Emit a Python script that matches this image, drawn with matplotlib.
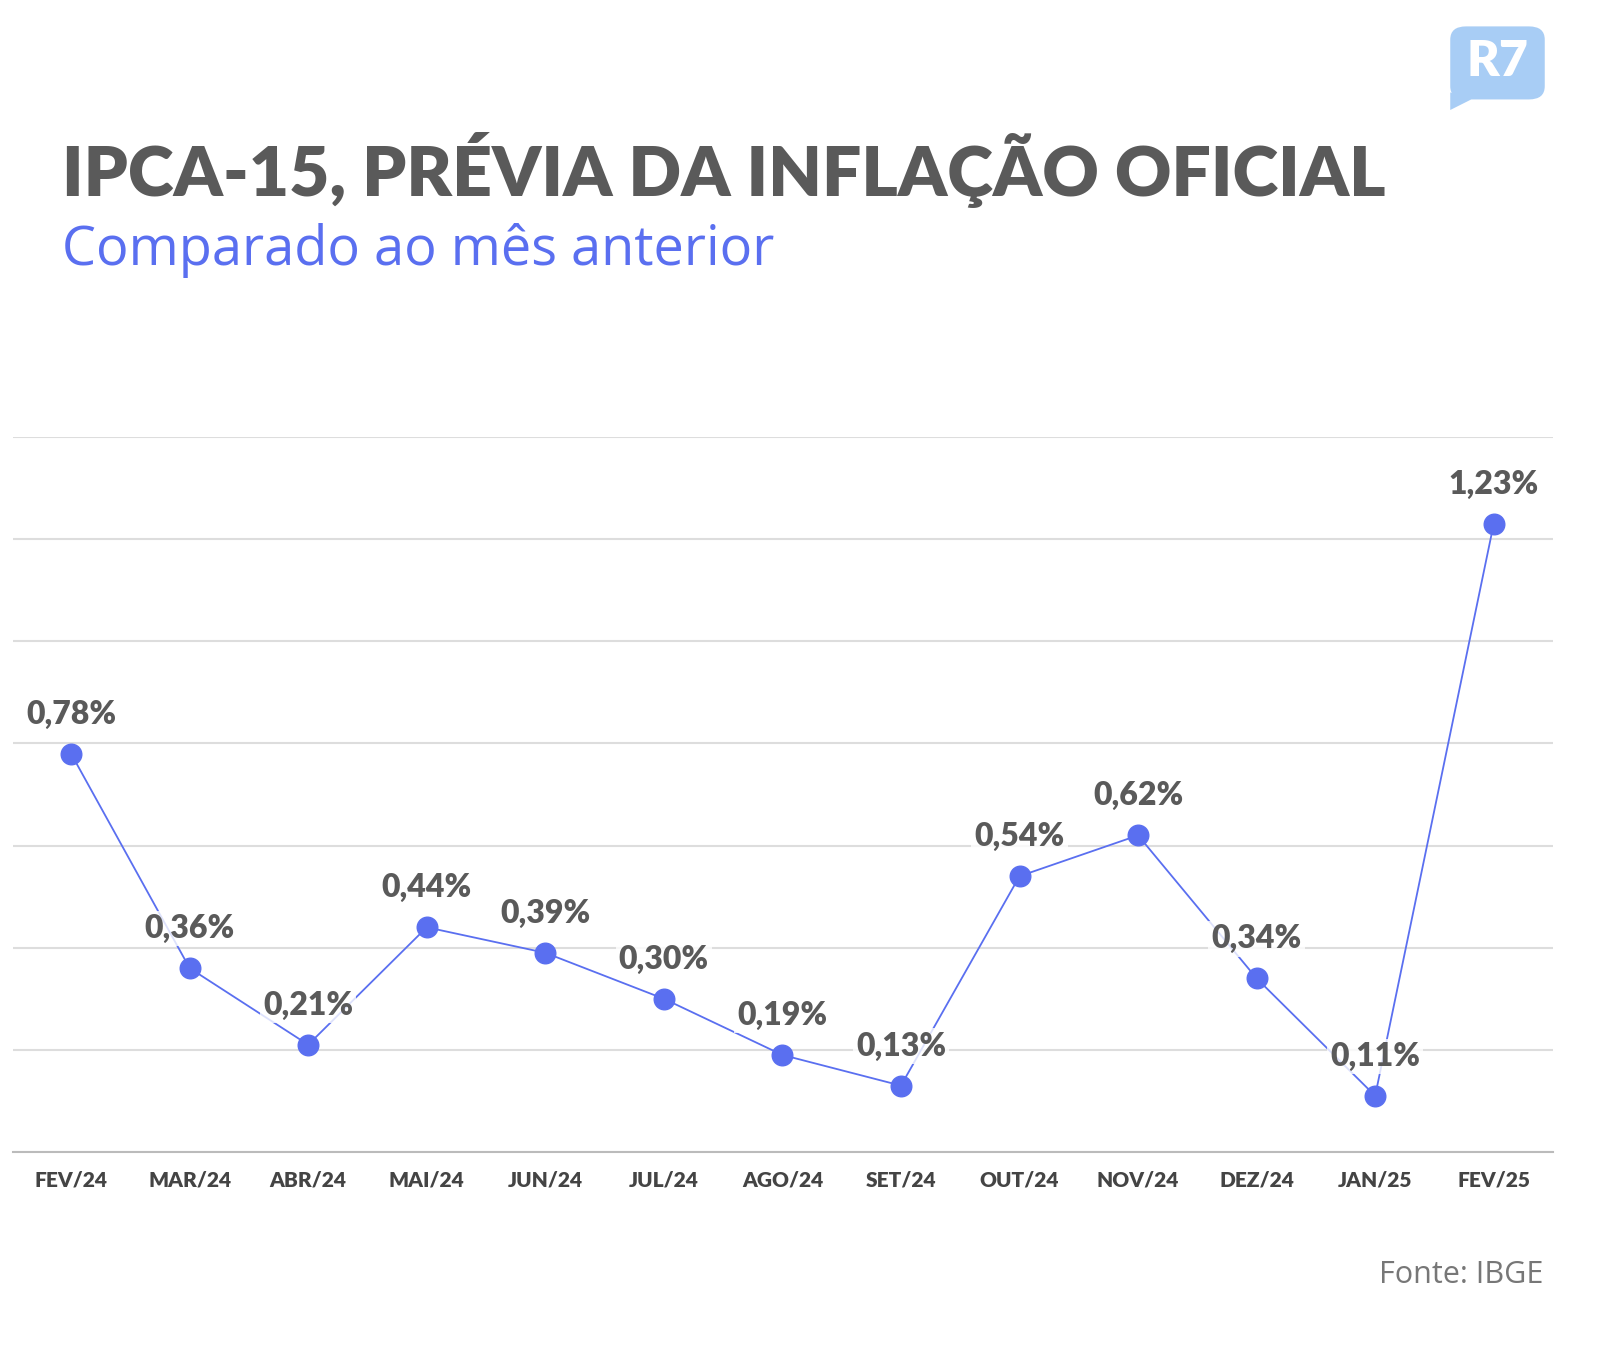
import matplotlib
matplotlib.use("Agg")
import matplotlib.pyplot as plt
from matplotlib.patches import FancyBboxPatch

months = ["FEV/24","MAR/24","ABR/24","MAI/24","JUN/24","JUL/24","AGO/24","SET/24","OUT/24","NOV/24","DEZ/24","JAN/25","FEV/25"]
values = [0.78,0.36,0.21,0.44,0.39,0.30,0.19,0.13,0.54,0.62,0.34,0.11,1.23]
labels = ["0,78%","0,36%","0,21%","0,44%","0,39%","0,30%","0,19%","0,13%","0,54%","0,62%","0,34%","0,11%","1,23%"]

W, H = 1600, 1350
fig = plt.figure(figsize=(W/100, H/100), dpi=100)
fig.patch.set_facecolor("white")
ax = fig.add_axes([13/W, 198/H, 1540/W, 715/H])
blue = "#5A6FF0"
gray = "#5a5a5a"
x = list(range(len(values)))
ax.plot(x, values, color=blue, lw=1.3, zorder=3)
ax.scatter(x, values, s=220, color=blue, zorder=4)
for xi, v, l in zip(x, values, labels):
    ax.annotate(l, (xi, v), xytext=(0, 18), textcoords="offset points", ha="center",
                va="bottom", fontsize=23, fontweight="heavy", color=gray, family="Lato",
                bbox=dict(boxstyle="square,pad=0.1", fc="white", ec="none", alpha=0.8), zorder=5)
ax.set_xlim(-0.49, 12.5)
ax.set_ylim(0, 1.4)
ax.set_yticks([0.2*i for i in range(8)])
ax.yaxis.grid(True, color="#dddddd", lw=1.5)
ax.set_axisbelow(True)
ax.tick_params(left=False, labelleft=False, bottom=False)
for s in ["left","right","top"]:
    ax.spines[s].set_visible(False)
ax.spines["bottom"].set_color("#bbbbbb")
ax.spines["bottom"].set_linewidth(1.5)
ax.set_xticks(x)
ax.set_xticklabels(months, fontsize=15, fontweight="heavy", color="#444444", family="Lato")
ax.tick_params(axis="x", pad=10)

fig.text(62/W, 1-170/H, "IPCA-15, PRÉVIA DA INFLAÇÃO OFICIAL", fontsize=50, fontweight="heavy",
         color=gray, va="center", family="Lato")
fig.text(62/W, 1-250/H, "Comparado ao mês anterior", fontsize=39, color=blue, va="center", family="Open Sans")
fig.text(1543/W, 1-1275/H, "Fonte: IBGE", fontsize=22, color="#777777", ha="right", va="center", family="Open Sans")

lax = fig.add_axes([1445/W, 1-110/H, 105/W, 88/H])
lax.set_xlim(0, 1); lax.set_ylim(0, 1); lax.axis("off")
lax.add_patch(FancyBboxPatch((0.05, 0.12), 0.9, 0.83, boxstyle="round,pad=0,rounding_size=0.15",
                             fc="#a8cdf5", ec="none"))
lax.add_patch(plt.Polygon([[0.05, 0.2], [0.05, 0.0], [0.25, 0.12]], fc="#a8cdf5", ec="none"))
lax.text(0.5, 0.55, "R7", ha="center", va="center", fontsize=36, fontweight="heavy", color="white", family="Lato")

fig.savefig("out.png", dpi=100)
